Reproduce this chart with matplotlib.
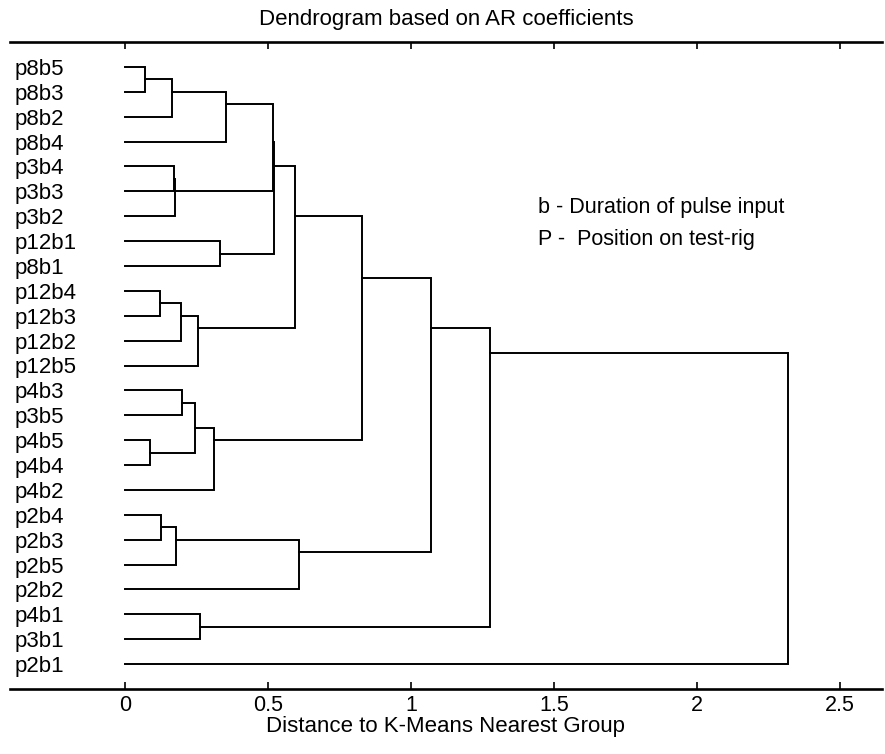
import matplotlib
matplotlib.use("Agg")
import matplotlib.pyplot as plt
import numpy as np

plt.rcParams['font.family'] = ['Liberation Sans', 'DejaVu Sans']

# Leaves, listed top to bottom
leaf_labels = ["p8b5", "p8b3", "p8b2", "p8b4", "p3b4", "p3b3", "p3b2",
               "p12b1", "p8b1", "p12b4", "p12b3", "p12b2", "p12b5",
               "p4b3", "p3b5", "p4b5", "p4b4", "p4b2",
               "p2b4", "p2b3", "p2b5", "p2b2", "p4b1", "p3b1", "p2b1"]

# Linkage: merge k creates cluster id n+k from (merge_a[k], merge_b[k]) at merge_height[k]
merge_a = [0, 25, 26, 4, 28, 7, 27, 31, 9, 33, 34, 32,
           13, 15, 37, 39, 36, 18, 42, 43, 41, 22, 45, 47]
merge_b = [1, 2, 3, 5, 6, 8, 29, 30, 10, 11, 12, 35,
           14, 16, 38, 17, 40, 19, 20, 21, 44, 23, 46, 24]
merge_height = [0.070, 0.164, 0.355, 0.172, 0.175, 0.334, 0.518, 0.522,
                0.122, 0.196, 0.255, 0.594,
                0.200, 0.087, 0.245, 0.311, 0.830,
                0.126, 0.178, 0.608, 1.070, 0.262, 1.275, 2.320]

x_ticks = [0, 0.5, 1, 1.5, 2, 2.5]
x_tick_labels = ["0", "0.5", "1", "1.5", "2", "2.5"]

title = "Dendrogram based on AR coefficients"
x_label = "Distance to K-Means Nearest Group"
notes = ["b - Duration of pulse input", "P -  Position on test-rig"]

n = len(leaf_labels)
leaf_pos = np.arange(1, n + 1, dtype=float)

# node geometry: height and vertical position (mean of member leaves)
members = {i: [i] for i in range(n)}
height = {i: 0.0 for i in range(n)}

fig = plt.figure(figsize=(8.85, 7.54), dpi=100)
ax = fig.add_axes([10 / 885, 1 - 689 / 754, 872 / 885, 647 / 754])

for k, (a, b, h) in enumerate(zip(merge_a, merge_b, merge_height)):
    ya = leaf_pos[members[a]].mean()
    yb = leaf_pos[members[b]].mean()
    ax.plot([height[a], h, h, height[b]], [ya, ya, yb, yb],
            color="black", lw=1.4, solid_joinstyle="miter")
    node = n + k
    members[node] = members[a] + members[b]
    height[node] = h

ax.set_xlim(-0.402, 2.647)
ax.set_ylim(26, 0)

ax.set_xticks(x_ticks)
ax.set_xticklabels(x_tick_labels, fontsize=15.5)
ax.tick_params(axis="x", direction="in", length=5, width=1.2,
               top=True, bottom=True, pad=4)

ax.set_yticks(leaf_pos)
ax.set_yticklabels(leaf_labels, fontsize=16)
ax.tick_params(axis="y", length=0, pad=-3)
for lab in ax.get_yticklabels():
    lab.set_horizontalalignment("left")

for side in ("left", "right"):
    ax.spines[side].set_visible(False)
for side in ("top", "bottom"):
    ax.spines[side].set_linewidth(1.9)

ax.set_title(title, fontsize=16, pad=12)
ax.set_xlabel(x_label, fontsize=16, labelpad=0.5)

for i, s in enumerate(notes):
    ax.text(1.444, 6.87 + 1.28 * i, s, fontsize=15.5, va="baseline", ha="left")

fig.savefig("out.png", dpi=100)
